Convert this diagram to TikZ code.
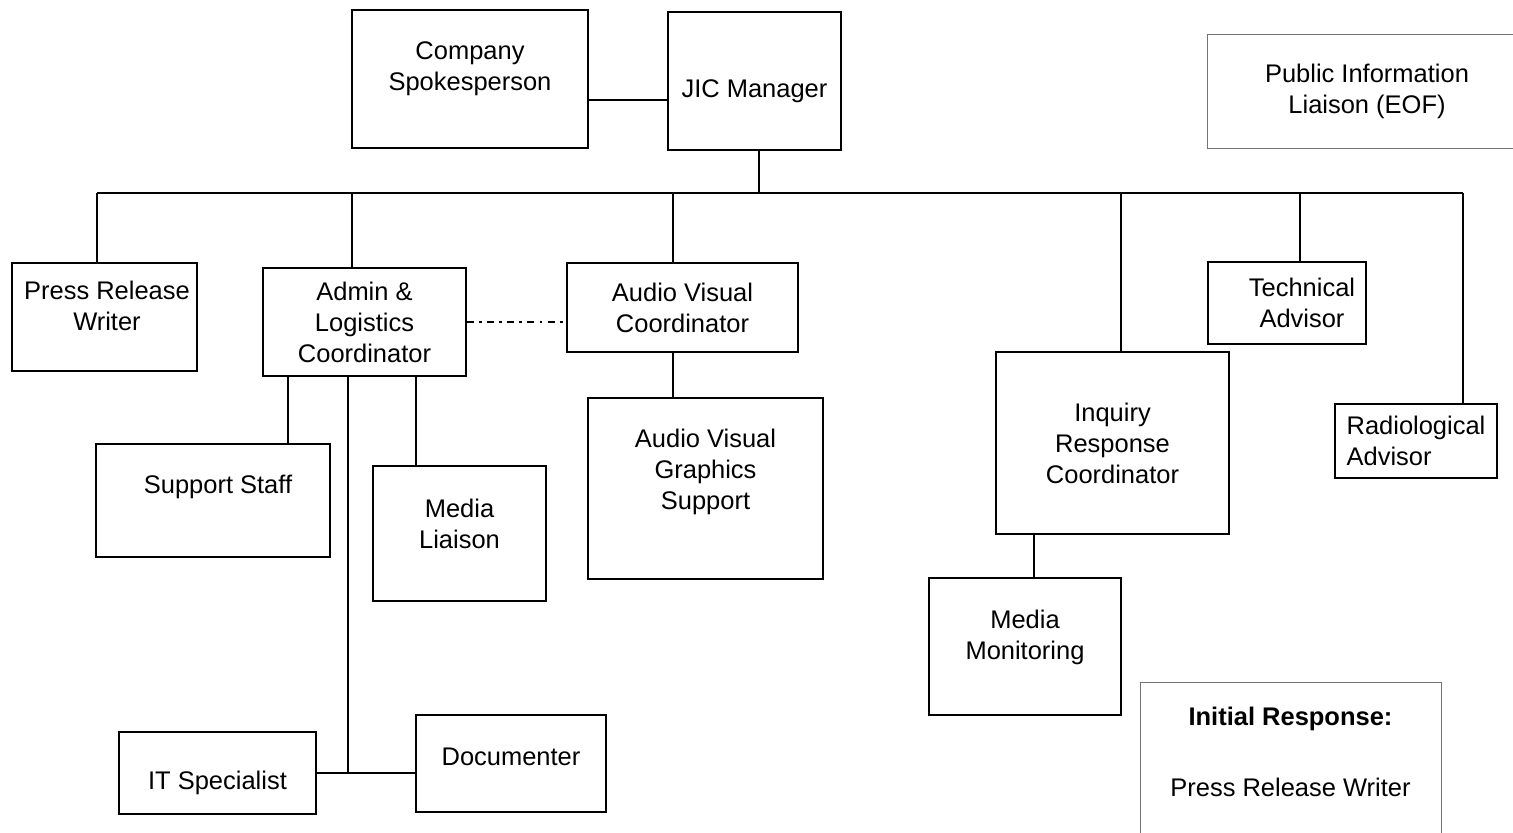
\documentclass[tikz,border=0pt]{standalone}
\usepackage{fontspec}
\setmainfont{Liberation Sans}

\begin{document}
\begin{tikzpicture}[x=0.02cm, y=-0.02cm, line width=0.9pt,
	every text node part/.style={font=\fontsize{14.5}{17.6}\selectfont},
	box/.style={draw, line width=0.9pt, align=center, inner sep=2pt},
	tag/.style={align=center, inner sep=0pt},
	panel/.style={draw=black!55, line width=0.5pt, align=center},
	dashdot/.style={dash pattern=on 4pt off 3pt on 1.5pt off 3pt}]
			\useasboundingbox (0,0) rectangle (1513,832);
			\node [box, minimum width=4.72cm, minimum height=2.76cm, label={[tag, name=spokes-t, yshift=0.2cm]center:Company\\Spokesperson}] (spokes) at (470,79) {};
			\node [box, minimum width=3.46cm, minimum height=2.76cm, label={[tag, name=jic-t, yshift=-0.2cm]center:JIC Manager}] (jic) at (754.5,81) {};
			\node [panel, minimum width=6.4cm, minimum height=2.28cm] (pil) at (1367,91) {Public Information\\Liaison (EOF)};
			\node [panel, anchor=north, minimum width=6.02cm, inner ysep=0.5cm] (init) at (1290.5,682) {\textbf{Initial Response:}\\[0.8cm]Press Release Writer\\[2cm]\mbox{}};
			\node [box, minimum width=3.7cm, minimum height=2.16cm, label={[tag, name=prw-t, xshift=0.05cm, yshift=0.22cm]center:Press Release\\Writer}] (prw) at (104.5,317) {};
			\node [box, minimum width=4.06cm, minimum height=2.16cm] (admin) at (364.5,322) {Admin \&\\Logistics\\Coordinator};
			\node [box, minimum width=4.62cm, minimum height=1.78cm] (avc) at (682.5,307.5) {Audio Visual\\Coordinator};
			\node [box, minimum width=4.7cm, minimum height=3.62cm, label={[tag, name=avg-t, yshift=0.33cm]center:Audio Visual\\Graphics\\Support}] (avg) at (705.5,488.5) {};
			\node [box, minimum width=3.16cm, minimum height=1.64cm, label={[tag, name=tech-t, xshift=0.3cm]center:Technical\\Advisor}] (tech) at (1287,303) {};
			\node [box, align=left, minimum width=3.24cm, minimum height=1.48cm] (radio) at (1416,441) {Radiological\\Advisor};
			\node [box, minimum width=4.66cm, minimum height=3.64cm] (inq) at (1112.5,443) {Inquiry\\Response\\Coordinator};
			\node [box, minimum width=3.84cm, minimum height=2.74cm, label={[tag, name=mm-t, yshift=0.19cm]center:Media\\Monitoring}] (mm) at (1025,646.5) {};
			\node [box, minimum width=4.68cm, minimum height=2.26cm, label={[tag, name=ss-t, xshift=0.1cm, yshift=0.27cm]center:Support Staff}] (ss) at (213,500.5) {};
			\node [box, minimum width=3.46cm, minimum height=2.7cm, label={[tag, name=ml-t, yshift=0.19cm]center:Media\\Liaison}] (ml) at (459.5,533.5) {};
			\node [box, minimum width=3.8cm, minimum height=1.94cm, label={[tag, name=doc-t, yshift=0.13cm]center:Documenter}] (doc) at (511,763.5) {};
			\node [box, minimum width=3.94cm, minimum height=1.64cm, label={[tag, name=it-t, yshift=-0.2cm]center:IT Specialist}] (it) at (217.5,773) {};
			\coordinate (busL) at (97,193);
			\coordinate (busR) at (1463,193);
			\draw ([yshift=-0.38cm]jic.west) -- ([yshift=-0.38cm]jic.west -| spokes.east);
			\draw (busL) -- (busR);
			\draw ([xshift=0.09cm]jic.south) -- ([xshift=0.09cm]jic.south |- busL);
			\draw ([xshift=-0.15cm]prw.north) -- ([xshift=-0.15cm]prw.north |- busL);
			\draw ([xshift=-0.25cm]admin.north) -- ([xshift=-0.25cm]admin.north |- busL);
			\draw ([xshift=-0.19cm]avc.north) -- ([xshift=-0.19cm]avc.north |- busL);
			\draw ([xshift=0.17cm]inq.north) -- ([xshift=0.17cm]inq.north |- busL);
			\draw ([xshift=0.26cm]tech.north) -- ([xshift=0.26cm]tech.north |- busL);
			\draw (busR) -- (busR |- radio.north);
			\draw [dashdot] (admin.east) -- (admin.east -| avc.west);
			\draw ([xshift=-0.19cm]avc.south) -- ([xshift=-0.19cm]avc.south |- avg.north);
			\draw ([xshift=0.78cm]inq.south west) -- ([xshift=0.78cm]inq.south west |- mm.north);
			\draw ([xshift=0.52cm]admin.south west) -- ([xshift=0.52cm]admin.south west |- ss.north);
			\draw ([xshift=3.08cm]admin.south west) -- ([xshift=3.08cm]admin.south west |- ml.north);
			\coordinate (hub) at ([xshift=1.72cm]admin.south west |- it.east);
			\draw ([xshift=1.72cm]admin.south west) -- (hub);
			\draw (it.east) -- (it.east -| doc.west);
		\end{tikzpicture}
\end{document}
